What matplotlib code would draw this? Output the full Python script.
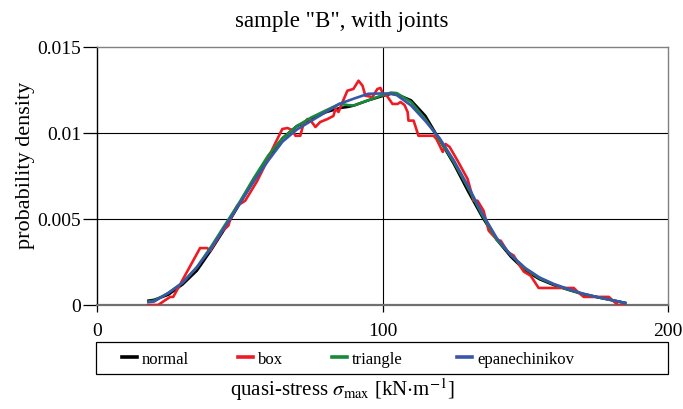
import matplotlib
matplotlib.use("Agg")
import matplotlib.pyplot as plt
from matplotlib.patches import Rectangle

plt.rcParams['font.family'] = ['Liberation Serif', 'DejaVu Serif']
plt.rcParams['mathtext.fontset'] = 'stix'

# smooth kernel estimates
x_smooth = [18, 20, 25, 30, 35, 40, 45, 50, 55, 60, 65, 70, 75, 80, 85, 88, 90, 95, 100,
            103, 105, 110, 115, 120, 125, 130, 135, 140, 145, 150, 155, 160, 165, 170,
            175, 180, 185]
normal = [0.00025, 0.0003, 0.0006, 0.0012, 0.0020, 0.0032, 0.0045, 0.0059, 0.0073, 0.0086,
          0.0097, 0.0104, 0.0108, 0.0112, 0.01145, 0.01152, 0.0116, 0.0119, 0.01215,
          0.01228, 0.01225, 0.0119, 0.0110, 0.0096, 0.0082, 0.0066, 0.0051, 0.0038, 0.0028,
          0.0020, 0.0015, 0.00116, 0.00089, 0.00064, 0.00046, 0.00029, 0.00012]
triangle = [0.0002, 0.00025, 0.0007, 0.0013, 0.0022, 0.0034, 0.0047, 0.0060, 0.0074, 0.0087,
            0.0097, 0.0104, 0.0109, 0.0113, 0.0117, 0.01162, 0.0116, 0.0119, 0.0122,
            0.01235, 0.01232, 0.0118, 0.0108, 0.0096, 0.0083, 0.0068, 0.0052, 0.0038, 0.0029,
            0.0021, 0.00155, 0.0012, 0.0009, 0.00066, 0.00047, 0.0003, 0.00012]
epanechnikov = [0.00017, 0.0002, 0.0007, 0.0013, 0.0022, 0.0033, 0.0046, 0.0059, 0.0072, 0.0084,
                0.0095, 0.0102, 0.0107, 0.0112, 0.0117, 0.01188, 0.0120, 0.01228, 0.0123,
                0.01228, 0.0122, 0.0116, 0.0107, 0.0097, 0.0084, 0.0069, 0.0053, 0.0039, 0.0029,
                0.00215, 0.0016, 0.00122, 0.00093, 0.00067, 0.00047, 0.0003, 0.00012]

# box kernel estimate (jagged)
x_box = [17.9, 21.4, 25.6, 26.7, 36.1, 38.6, 39.6, 43.9, 46.0, 46.7, 49.1, 51.9, 56.1, 58.2,
         61.8, 64.9, 66.7, 68.4, 69.5, 71.2, 72.3, 73.7, 74.7, 76.5, 78.2, 80.7, 82.8, 83.5,
         84.6, 86.0, 87.7, 89.8, 91.6, 93.0, 94.0, 96.5, 98.2, 99.3, 100.4, 101.1, 103.5,
         105.3, 106.3, 107.7, 108.8, 109.1, 110.9, 112.6, 117.9, 118.9, 121.1, 122.1, 123.5,
         126.3, 129.8, 131.9, 133.3, 135.4, 137.2, 140.4, 141.4, 143.9, 146.0, 147.7, 149.5,
         151.9, 154.7, 156.5, 167.0, 168.4, 170.5, 179.3, 180.7, 182.5, 184.6]
box = [0.0, 0.0, 0.00047, 0.00047, 0.00331, 0.00331, 0.00314, 0.0043, 0.00461, 0.0050,
       0.00577, 0.00606, 0.00721, 0.00791, 0.00919, 0.01023, 0.01029, 0.01017, 0.00984,
       0.00984, 0.01052, 0.01081, 0.01076, 0.01035, 0.01064, 0.01081, 0.01099, 0.0114,
       0.01122, 0.0118, 0.01246, 0.01256, 0.01304, 0.01275, 0.01217, 0.01209, 0.01256,
       0.01262, 0.01217, 0.01227, 0.01169, 0.01169, 0.0118, 0.01163, 0.01122, 0.01072,
       0.01072, 0.00984, 0.00984, 0.00965, 0.0089, 0.00936, 0.00919, 0.00839, 0.00733,
       0.00606, 0.00606, 0.00548, 0.00432, 0.00374, 0.00374, 0.00308, 0.00287, 0.00238,
       0.00194, 0.0017, 0.00099, 0.00099, 0.00099, 0.00076, 0.00047, 0.00047, 0.00025,
       0.0, 0.0]

x_ticks = [0, 100, 200]
y_ticks = [0, 0.005, 0.01, 0.015]
y_ticklabels = ["0", "0.005", "0.01", "0.015"]

fig = plt.figure(figsize=(6.83, 4.10), dpi=100)
ax = fig.add_axes([97/683, 1-306/410, 571/683, 258/410])

lw = 1.9
l1, = ax.plot(x_smooth, normal, color='black', lw=lw, label='normal', zorder=3)
l2, = ax.plot(x_box, box, color='#ED1C24', lw=lw, label='box', zorder=4)
l3, = ax.plot(x_smooth, triangle, color='#178A3A', lw=lw, label='triangle', zorder=5)
l4, = ax.plot(x_smooth, epanechnikov, color='#3A56A8', lw=lw, label='epanechinikov', zorder=6)

ax.set_xlim(0, 200)
ax.set_ylim(0, 0.015)
ax.set_xticks(x_ticks)
ax.set_xticklabels([str(t) for t in x_ticks])
ax.set_yticks(y_ticks)
ax.set_yticklabels(y_ticklabels)
ax.tick_params(axis='both', labelsize=14, direction='out', width=0.9, color='black')
ax.tick_params(axis='x', length=5, pad=7)
ax.tick_params(axis='y', length=10, pad=1.5)

for yv in [0.005, 0.01]:
    ax.axhline(yv, color='black', lw=0.8, zorder=1)
ax.axvline(100, color='black', lw=0.8, zorder=1)

for s in ['top', 'right']:
    ax.spines[s].set_color('#808080')
    ax.spines[s].set_linewidth(1.0)
ax.spines['bottom'].set_color('#707070')
ax.spines['bottom'].set_linewidth(1.6)
ax.spines['left'].set_color('black')
ax.spines['left'].set_linewidth(1.0)

fig.text(0.5, 1-21/410, 'sample "B", with joints', ha='center', va='center', fontsize=16.5)
fig.text(26/683, 1-165/410, 'probability density', ha='center', va='center',
         rotation=90, fontsize=16)
fig.text(0.502, 1-390/410, r'quasi-stress $\sigma_{\mathrm{max}}$ [kN$\cdot$m$^{-1}$]',
         ha='center', va='center', fontsize=15)

# legend frame
fig.patches.append(Rectangle((96/683, 1-375/410), 572/683, 32/410, transform=fig.transFigure,
                             fill=False, edgecolor='black', lw=0.9))
legend_x_px = [122, 238, 332, 457]
for handle, xpx in zip([l1, l2, l3, l4], legend_x_px):
    lg = fig.legend(handles=[handle], loc='center left',
                    bbox_to_anchor=(xpx/683, 1-360/410), frameon=False,
                    borderpad=0, borderaxespad=0,
                    fontsize=12, handlelength=0.9, handletextpad=0.3)
    for h in lg.legend_handles:
        h.set_linewidth(2.6)

fig.savefig('out.png', dpi=100)
